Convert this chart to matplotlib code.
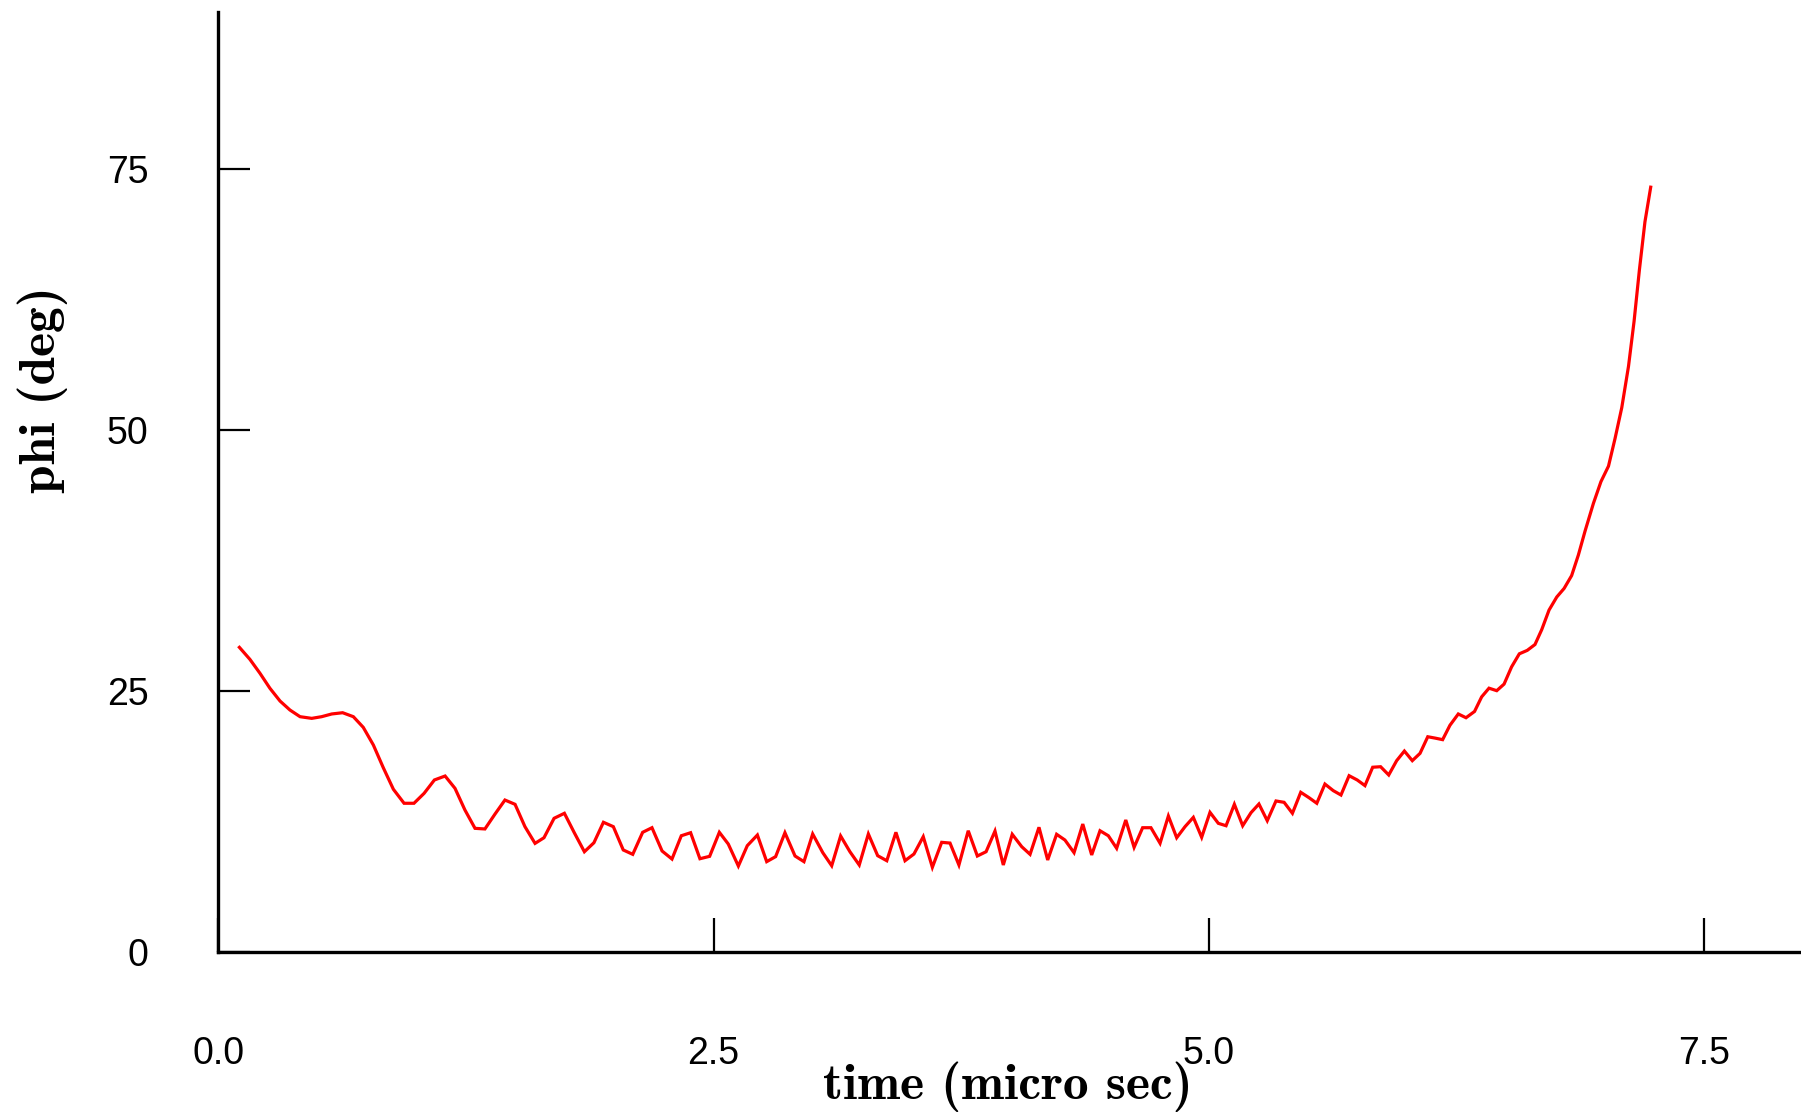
import matplotlib
matplotlib.use("Agg")
import matplotlib.pyplot as plt

# time (micro sec)
time_us = [
    0.107, 0.160, 0.211, 0.261, 0.312, 0.362, 0.413, 0.472, 0.522, 0.573,
    0.628, 0.682, 0.732, 0.783, 0.833, 0.884, 0.938, 0.988, 1.039, 1.091,
    1.145, 1.195, 1.245, 1.296, 1.346, 1.397, 1.447, 1.498, 1.548, 1.599,
    1.644, 1.695, 1.747, 1.797, 1.848, 1.896, 1.944, 1.994, 2.044, 2.092,
    2.142, 2.189, 2.240, 2.290, 2.337, 2.384, 2.431, 2.480, 2.529, 2.574,
    2.625, 2.670, 2.721, 2.768, 2.813, 2.860, 2.911, 2.956, 3.000, 3.051,
    3.096, 3.141, 3.188, 3.235, 3.281, 3.328, 3.374, 3.420, 3.466, 3.511,
    3.558, 3.604, 3.651, 3.693, 3.738, 3.785, 3.831, 3.875, 3.920, 3.962,
    4.007, 4.055, 4.097, 4.142, 4.186, 4.231, 4.273, 4.319, 4.363, 4.408,
    4.450, 4.492, 4.534, 4.580, 4.622, 4.665, 4.707, 4.753, 4.795, 4.837,
    4.879, 4.921, 4.963, 5.005, 5.047, 5.086, 5.128, 5.170, 5.212, 5.252,
    5.294, 5.338, 5.379, 5.421, 5.463, 5.505, 5.544, 5.585, 5.627, 5.666,
    5.707, 5.748, 5.787, 5.826, 5.866, 5.907, 5.947, 5.986, 6.026, 6.065,
    6.104, 6.141, 6.179, 6.216, 6.258, 6.297, 6.340, 6.376, 6.413, 6.452,
    6.489, 6.527, 6.566, 6.606, 6.645, 6.679, 6.716, 6.755, 6.792, 6.830,
    6.864, 6.898, 6.940, 6.978, 7.016, 7.049, 7.083, 7.117, 7.145, 7.172,
    7.200, 7.229,
]

# phi (deg)
phi_deg = [
    29.19, 28.04, 26.70, 25.27, 24.05, 23.19, 22.55, 22.39, 22.55, 22.81,
    22.93, 22.55, 21.53, 19.84, 17.67, 15.60, 14.26, 14.26, 15.21, 16.49,
    16.87, 15.69, 13.62, 11.86, 11.80, 13.23, 14.57, 14.16, 12.02, 10.42,
    10.96, 12.82, 13.30, 11.44, 9.62, 10.48, 12.44, 12.02, 9.79, 9.37,
    11.48, 11.92, 9.69, 8.92, 11.15, 11.44, 8.95, 9.18, 11.48, 10.36,
    8.25, 10.20, 11.22, 8.67, 9.15, 11.44, 9.21, 8.67, 11.32, 9.53,
    8.28, 11.13, 9.62, 8.35, 11.32, 9.24, 8.76, 11.48, 8.76, 9.40,
    11.06, 8.13, 10.52, 10.45, 8.35, 11.63, 9.21, 9.62, 11.60, 8.35,
    11.29, 10.10, 9.37, 11.96, 8.83, 11.29, 10.74, 9.53, 12.27, 9.31,
    11.63, 11.15, 9.95, 12.66, 10.04, 11.92, 11.92, 10.43, 13.04, 10.96,
    12.02, 12.91, 11.00, 13.39, 12.34, 12.11, 14.16, 12.11, 13.36, 14.19,
    12.59, 14.48, 14.35, 13.30, 15.31, 14.79, 14.26, 16.10, 15.47, 15.05,
    16.90, 16.49, 15.95, 17.71, 17.76, 16.97, 18.34, 19.26, 18.34, 19.04,
    20.63, 20.50, 20.35, 21.73, 22.81, 22.45, 23.05, 24.45, 25.28, 25.04,
    25.67, 27.32, 28.57, 28.90, 29.46, 30.88, 32.76, 34.01, 34.83, 36.06,
    38.03, 40.34, 42.98, 45.06, 46.54, 49.18, 52.14, 56.10, 60.39, 65.33,
    69.94, 73.25,
]

x_ticks = [0.0, 2.5, 5.0, 7.5]
x_tick_labels = ["0.0", "2.5", "5.0", "7.5"]
y_ticks = [0, 25, 50, 75]
y_tick_labels = ["0", "25", "50", "75"]

W, H = 1801, 1114
fig = plt.figure(figsize=(W / 100, H / 100), dpi=100)
left_px, right_px, bottom_px, top_px = 218.2, 1801.0, 952.2, 11.5
ax = fig.add_axes([left_px / W, 1 - bottom_px / H,
                   (right_px - left_px) / W, (bottom_px - top_px) / H])

ax.plot(time_us, phi_deg, color="#ff0000", linewidth=2.3, solid_joinstyle="miter")

ax.set_xlim(0, (right_px - left_px) / 198.16)
ax.set_ylim(0, (bottom_px - top_px) / 10.444)

for s in ["top", "right"]:
    ax.spines[s].set_visible(False)
for s in ["left", "bottom"]:
    ax.spines[s].set_linewidth(2.4)
    ax.spines[s].set_color("black")

tick_font = dict(family=["Liberation Sans", "DejaVu Sans"], size=27)
ax.set_xticks(x_ticks)
ax.set_xticklabels(x_tick_labels, **tick_font)
ax.set_yticks(y_ticks)
ax.set_yticklabels(y_tick_labels, **tick_font)
ax.tick_params(axis="x", direction="in", length=24.5, width=1.6, pad=60, colors="black")
ax.tick_params(axis="y", direction="in", length=23, width=1.6, pad=50, colors="black")

label_font = dict(family=["cmb10", "DejaVu Serif"], size=37, weight="bold")
ax.set_xlabel("time (micro sec)", **label_font)
ax.xaxis.label.set_va("center")
ax.xaxis.set_label_coords(0.499, (bottom_px - 1087) / (bottom_px - top_px))
ax.set_ylabel("phi (deg)", **label_font)
ax.yaxis.label.set_va("center")
ax.yaxis.label.set_ha("center")
ax.yaxis.set_label_coords((42.5 - left_px) / (right_px - left_px),
                          (bottom_px - 390) / (bottom_px - top_px))

fig.savefig("out.png", dpi=100)
